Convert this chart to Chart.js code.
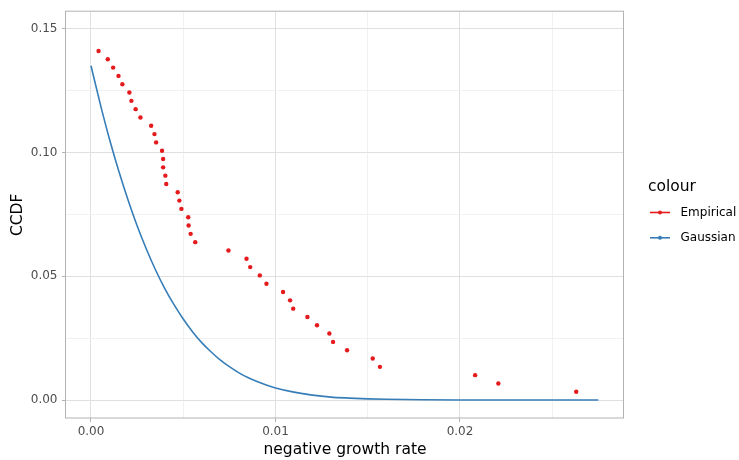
<!DOCTYPE html>
<html>
<head>
<meta charset="utf-8">
<title>CCDF of negative growth rate</title>
<script src="https://cdn.jsdelivr.net/npm/chart.js@4.4.1/dist/chart.umd.min.js"></script>
<style>
  html, body { margin: 0; padding: 0; background: #fff; }
  #ccdfChart { display: block; }
</style>
</head>
<body>
<canvas id="ccdfChart" width="739" height="460"></canvas>
<script>
// Series
const seriesNames = ['Empirical', 'Gaussian'];
const seriesColors = ['#E41A1C', '#377EB8'];

// Empirical CCDF points
const empiricalX = [
    0.00041, 0.00091, 0.00120, 0.00149, 0.00170, 0.00208, 0.00219, 0.00242,
    0.00268, 0.00326, 0.00344, 0.00353, 0.00385, 0.00391, 0.00391, 0.00403,
    0.00408, 0.00470, 0.00479, 0.00490, 0.00527, 0.00529, 0.00540, 0.00565,
    0.00745, 0.00843, 0.00863, 0.00915, 0.00951, 0.01041, 0.01079, 0.01096,
    0.01173, 0.01225, 0.01292, 0.01312, 0.01388, 0.01527, 0.01566, 0.02082,
    0.02208, 0.02630
];
const empiricalY = [
    0.14094, 0.13758, 0.13423, 0.13087, 0.12752, 0.12416, 0.12081, 0.11745,
    0.11409, 0.11074, 0.10738, 0.10403, 0.10067, 0.09732, 0.09396, 0.09060,
    0.08725, 0.08389, 0.08054, 0.07718, 0.07383, 0.07047, 0.06711, 0.06376,
    0.06040, 0.05705, 0.05369, 0.05034, 0.04698, 0.04362, 0.04027, 0.03691,
    0.03356, 0.03020, 0.02685, 0.02349, 0.02013, 0.01678, 0.01342, 0.01007,
    0.00671, 0.00336
];

// Gaussian CCDF curve
const gaussianX = [
    0, 0.0005, 0.001, 0.0015, 0.002, 0.0025, 0.003, 0.0035, 0.004, 0.0045,
    0.005, 0.0055, 0.006, 0.0065, 0.007, 0.0075, 0.008, 0.0085, 0.009, 0.0095,
    0.010, 0.011, 0.012, 0.013, 0.014, 0.015, 0.016, 0.018, 0.020, 0.0225,
    0.025, 0.0275
];
const gaussianY = [
    0.1350, 0.1196, 0.1054, 0.0926, 0.0810, 0.0704, 0.0610, 0.0525, 0.0450, 0.0385,
    0.0327, 0.0276, 0.0232, 0.0195, 0.0162, 0.0135, 0.0111, 0.0091, 0.0075, 0.0061,
    0.0049, 0.0032, 0.0020, 0.0012, 0.0008, 0.0005, 0.0003, 0.0001, 0.0000, 0,
    0, 0
];

// Axis ticks
const xTicks = [0, 0.01, 0.02];
const xTickLabels = ['0.00', '0.01', '0.02'];
const yTicks = [0, 0.05, 0.10, 0.15];
const yTickLabels = ['0.00', '0.05', '0.10', '0.15'];

const FONT = '"DejaVu Sans", "Liberation Sans", sans-serif';

function findMajor(list, value) {
    return list.findIndex(t => Math.abs(t - value) < 1e-9);
}

// Panel border on top of the data
const panelBorder = {
    id: 'panelBorder',
    afterDatasetsDraw(chart) {
        const { ctx, chartArea: a } = chart;
        ctx.save();
        ctx.strokeStyle = '#b3b3b3';
        ctx.lineWidth = 1;
        ctx.strokeRect(a.left - 0.5, a.top - 0.5, a.right - a.left, a.bottom - a.top + 0.5);
        ctx.restore();
    }
};

// Legend on the right: title + line/point keys
const sideLegend = {
    id: 'sideLegend',
    afterDraw(chart) {
        const ctx = chart.ctx;
        ctx.save();
        ctx.fillStyle = '#000';
        ctx.font = '15.5px ' + FONT;
        ctx.textAlign = 'left';
        ctx.textBaseline = 'alphabetic';
        ctx.fillText('colour', 648, 190.5);

        ctx.font = '12px ' + FONT;
        ctx.textBaseline = 'middle';
        seriesNames.forEach((name, i) => {
            const y = 212.5 + i * 25.3;
            ctx.strokeStyle = seriesColors[i];
            ctx.lineWidth = 1.6;
            ctx.beginPath();
            ctx.moveTo(650, y);
            ctx.lineTo(670, y);
            ctx.stroke();
            ctx.fillStyle = seriesColors[i];
            ctx.beginPath();
            ctx.arc(660, y, 2, 0, Math.PI * 2);
            ctx.fill();
            ctx.fillStyle = '#000';
            ctx.fillText(name, 680.5, y);
        });
        ctx.restore();
    }
};

const ctx = document.getElementById('ccdfChart').getContext('2d');

new Chart(ctx, {
    type: 'scatter',
    data: {
        datasets: [
            {
                label: seriesNames[1],
                data: gaussianX.map((x, i) => ({ x: x, y: gaussianY[i] })),
                showLine: true,
                borderColor: seriesColors[1],
                borderWidth: 1.6,
                pointRadius: 0,
                pointHoverRadius: 0,
                cubicInterpolationMode: 'monotone',
                fill: false
            },
            {
                label: seriesNames[0],
                data: empiricalX.map((x, i) => ({ x: x, y: empiricalY[i] })),
                showLine: false,
                backgroundColor: seriesColors[0],
                borderWidth: 0,
                pointRadius: 2.2,
                pointHoverRadius: 2.2
            }
        ]
    },
    options: {
        responsive: false,
        animation: false,
        devicePixelRatio: 1,
        layout: {
            padding: { top: 10, right: 115, bottom: 0, left: 0 }
        },
        plugins: {
            legend: { display: false },
            tooltip: { enabled: false }
        },
        scales: {
            x: {
                type: 'linear',
                min: -0.001355,
                max: 0.02889,
                border: { display: false },
                grid: {
                    color: c => findMajor(xTicks, c.tick.value) >= 0 ? '#e0e0e0' : '#f1f1f1',
                    tickColor: c => findMajor(xTicks, c.tick.value) >= 0 ? '#b3b3b3' : 'rgba(0,0,0,0)',
                    tickLength: 4,
                    lineWidth: 1
                },
                ticks: {
                    stepSize: 0.005,
                    includeBounds: false,
                    autoSkip: false,
                    maxRotation: 0,
                    padding: 3,
                    color: '#4d4d4d',
                    font: { family: FONT, size: 12 },
                    callback: value => {
                        const i = findMajor(xTicks, value);
                        return i >= 0 ? xTickLabels[i] : '';
                    }
                },
                title: {
                    display: true,
                    text: 'negative growth rate',
                    color: '#000',
                    font: { family: FONT, size: 15.5, lineHeight: 1.2 },
                    padding: { top: 0, bottom: 0.5 }
                },
                afterFit: scale => { scale.height = 42; }
            },
            y: {
                type: 'linear',
                min: -0.00724,
                max: 0.1568,
                border: { display: false },
                grid: {
                    color: c => findMajor(yTicks, c.tick.value) >= 0 ? '#e0e0e0' : '#f1f1f1',
                    tickColor: c => findMajor(yTicks, c.tick.value) >= 0 ? '#b3b3b3' : 'rgba(0,0,0,0)',
                    tickLength: 4,
                    lineWidth: 1
                },
                ticks: {
                    stepSize: 0.025,
                    includeBounds: false,
                    autoSkip: false,
                    padding: 4.5,
                    color: '#4d4d4d',
                    font: { family: FONT, size: 12 },
                    callback: value => {
                        const i = findMajor(yTicks, value);
                        return i >= 0 ? yTickLabels[i] : '';
                    }
                },
                title: {
                    display: true,
                    text: 'CCDF',
                    color: '#000',
                    font: { family: FONT, size: 15.5, lineHeight: 1.2 },
                    padding: { top: 9, bottom: 0 }
                },
                afterFit: scale => { scale.width = 66; }
            }
        }
    },
    plugins: [panelBorder, sideLegend]
});
</script>
</body>
</html>
